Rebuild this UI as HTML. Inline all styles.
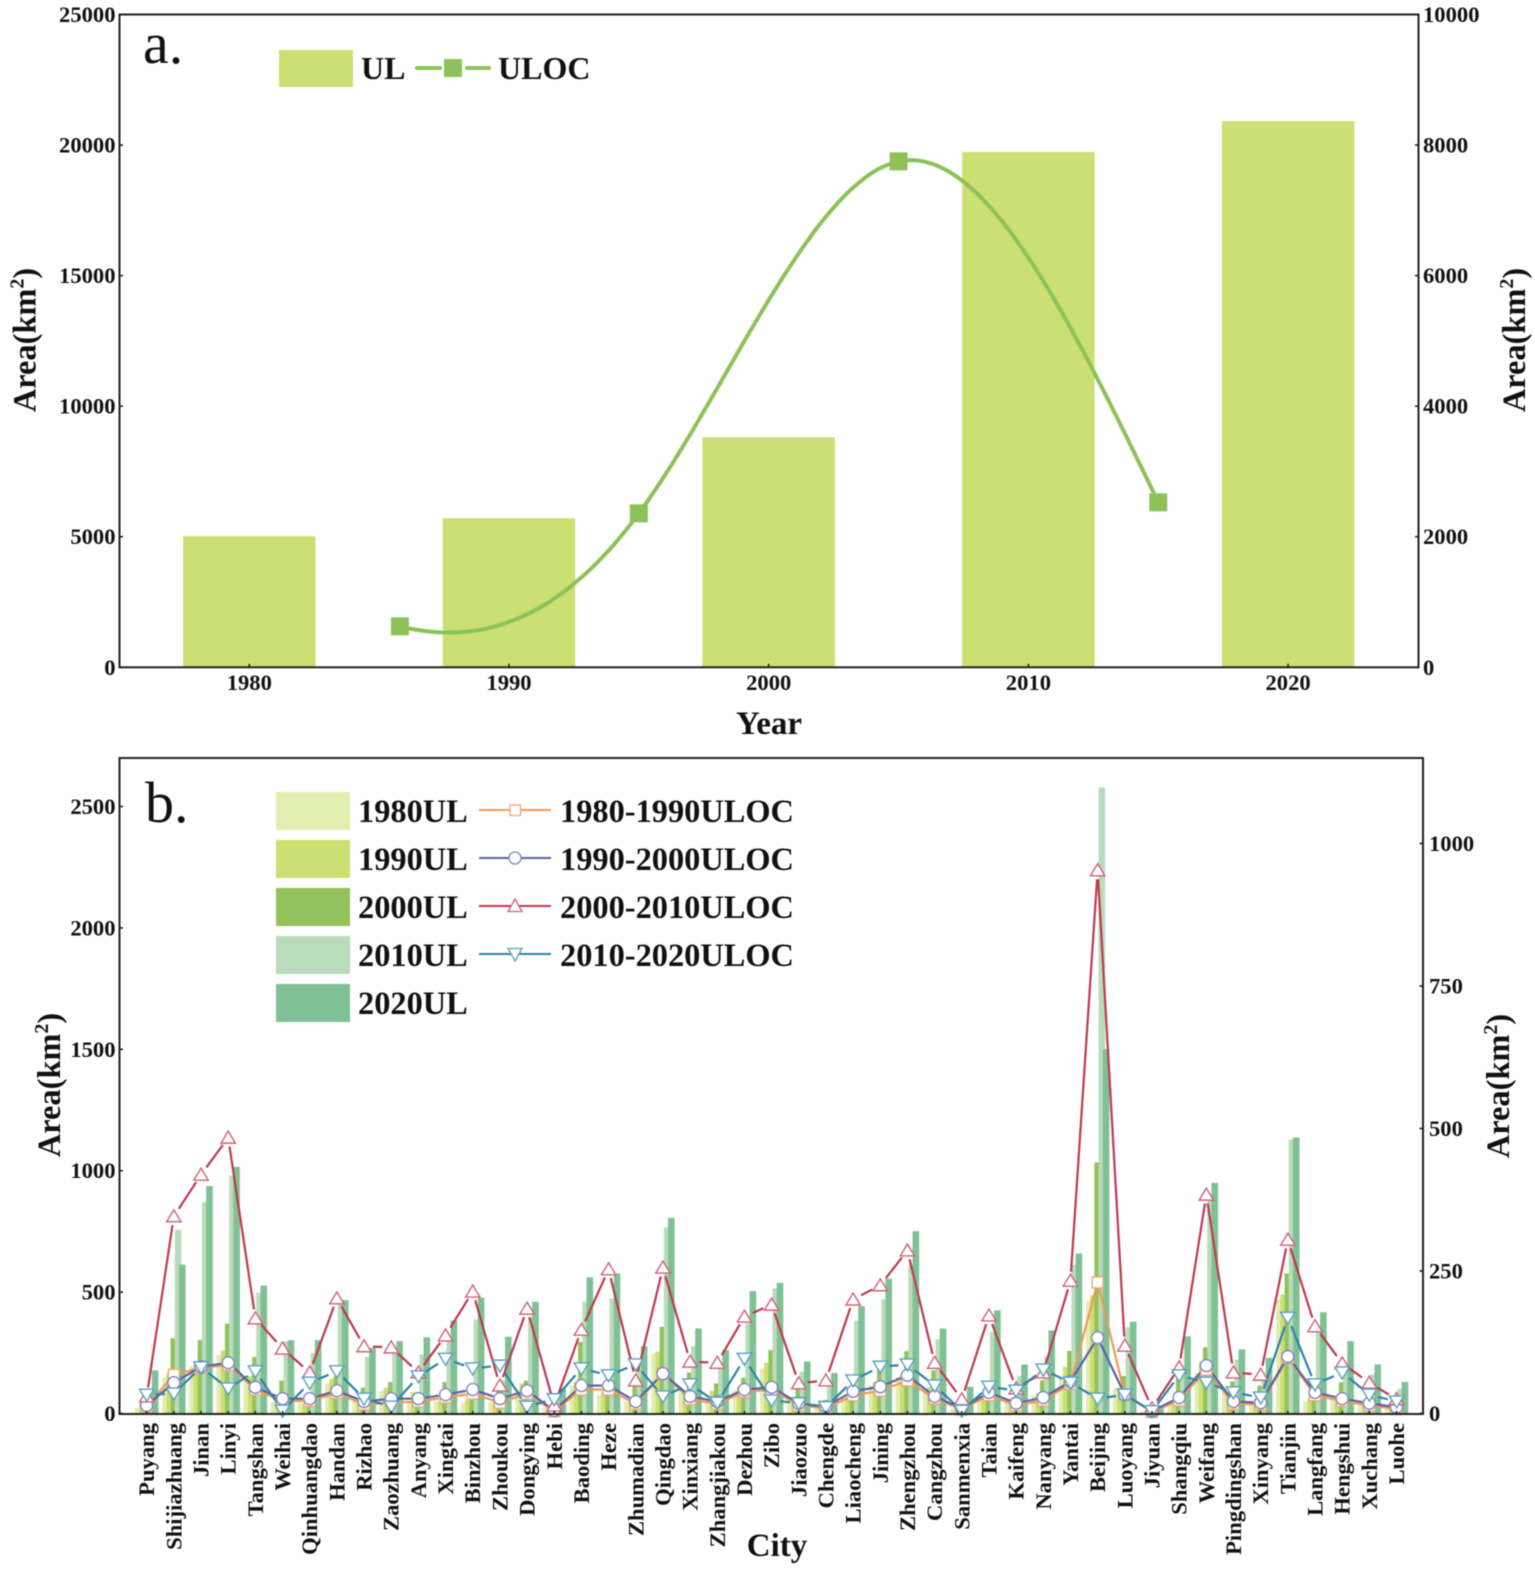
<!DOCTYPE html>
<html lang="en">
<head>
<meta charset="utf-8">
<title>Urban land area and occupation of cultivated land</title>
<style>
html,body{margin:0;padding:0;background:#fff;}
#figure{display:block;width:1535px;height:1569px;filter:blur(0.45px);}
text{font-family:"Liberation Serif",serif;font-weight:bold;fill:#111;}
.tick{font-size:22.6px;}
.title{font-size:33px;}
.area{font-size:32.4px;}
.sup{font-size:20px;}
.panel{font-size:58px;font-weight:normal;}
.leg-a{font-size:32px;}
.leg{font-size:32.4px;}
</style>
</head>
<body>
<svg id="figure" xmlns="http://www.w3.org/2000/svg" width="1535" height="1569" viewBox="0 0 1535 1569">
  <g id="a-plot"></g>
  <g id="b-plot"></g>

  <text class="panel" x="143" y="63">a.</text>
  <text class="panel" x="145" y="822">b.</text>

  <text class="title" x="769" y="734" text-anchor="middle">Year</text>
  <text class="title" x="777" y="1556" text-anchor="middle">City</text>

  <text class="area" transform="translate(35.5 340) rotate(-90)" text-anchor="middle">Area(km<tspan class="sup" dy="-12">2</tspan><tspan dy="12">)</tspan></text>
  <text class="area" transform="translate(1525 340) rotate(-90)" text-anchor="middle">Area(km<tspan class="sup" dy="-12">2</tspan><tspan dy="12">)</tspan></text>
  <text class="area" transform="translate(60 1085) rotate(-90)" text-anchor="middle">Area(km<tspan class="sup" dy="-12">2</tspan><tspan dy="12">)</tspan></text>
  <text class="area" transform="translate(1509 1086) rotate(-90)" text-anchor="middle">Area(km<tspan class="sup" dy="-12">2</tspan><tspan dy="12">)</tspan></text>

  <g>
    <rect x="279" y="50" width="74" height="37" fill="#cbdf73"/>
    <text class="leg-a" x="361" y="79">UL</text>
    <line x1="417" y1="68" x2="440" y2="68" stroke="#8cc25a" stroke-width="4" stroke-linecap="round"/>
    <line x1="467" y1="68" x2="489" y2="68" stroke="#8cc25a" stroke-width="4" stroke-linecap="round"/>
    <rect x="444" y="59" width="18" height="18" fill="#8fc15b"/>
    <text class="leg-a" x="498" y="79">ULOC</text>
  </g>

  <g>
    <rect x="276" y="792" width="74" height="38" fill="#e2edb0"/>
    <rect x="276" y="840" width="74" height="38" fill="#cbdf73"/>
    <rect x="276" y="888" width="74" height="38" fill="#93c25c"/>
    <rect x="276" y="936" width="74" height="38" fill="#bbdcbb"/>
    <rect x="276" y="984" width="74" height="38" fill="#80c095"/>
    <text class="leg" x="358" y="822">1980UL</text>
    <text class="leg" x="358" y="870">1990UL</text>
    <text class="leg" x="358" y="918">2000UL</text>
    <text class="leg" x="358" y="966">2010UL</text>
    <text class="leg" x="358" y="1014">2020UL</text>

    <line x1="479" y1="810" x2="551" y2="810" stroke="#ef9a55" stroke-width="2"/>
    <rect x="510" y="805" width="10.5" height="10.5" fill="#fff" stroke="#f0a878" stroke-width="1.3"/>
    <text class="leg" x="560" y="822">1980-1990ULOC</text>

    <line x1="479" y1="858" x2="551" y2="858" stroke="#5a62a8" stroke-width="2"/>
    <circle cx="515" cy="858" r="6" fill="#fff" stroke="#7f86c0" stroke-width="1.3"/>
    <text class="leg" x="560" y="870">1990-2000ULOC</text>

    <line x1="479" y1="906" x2="551" y2="906" stroke="#c0394f" stroke-width="2"/>
    <polygon points="515,899 522,911.5 508,911.5" fill="#fff" stroke="#d0607a" stroke-width="1.3"/>
    <text class="leg" x="560" y="918">2000-2010ULOC</text>

    <line x1="479" y1="954" x2="551" y2="954" stroke="#2d84ab" stroke-width="2"/>
    <polygon points="515,961 522,948.5 508,948.5" fill="#fff" stroke="#5a9fc0" stroke-width="1.3"/>
    <text class="leg" x="560" y="966">2010-2020ULOC</text>
  </g>
</svg>

<script>
// ---------- Panel a data ----------
const aYears = [1980, 1990, 2000, 2010, 2020];
const aUL = [5020, 5710, 8810, 19730, 20920];
const aUlocYears = [1985.8, 1995, 2005, 2015];
const aULOC = [628, 2358, 7750, 2527];
const aLeftTicks = [0, 5000, 10000, 15000, 20000, 25000];
const aRightTicks = [0, 2000, 4000, 6000, 8000, 10000];

// ---------- Panel b data ----------
const cities = ["Puyang","Shijiazhuang","Jinan","Linyi","Tangshan","Weihai","Qinhuangdao","Handan","Rizhao","Zaozhuang","Anyang","Xingtai","Binzhou","Zhoukou","Dongying","Hebi","Baoding","Heze","Zhumadian","Qingdao","Xinxiang","Zhangjiakou","Dezhou","Zibo","Jiaozuo","Chengde","Liaocheng","Jining","Zhengzhou","Cangzhou","Sanmenxia","Taian","Kaifeng","Nanyang","Yantai","Beijing","Luoyang","Jiyuan","Shangqiu","Weifang","Pingdingshan","Xinyang","Tianjin","Langfang","Hengshui","Xuchang","Luohe"];
const ul1980 = [23,150,195,240,150,48,44,124,58,92,50,50,45,48,96,25,117,75,48,247,89,55,96,185,55,41,62,117,151,96,21,58,55,75,144,465,106,10,50,167,85,37,470,50,58,44,30];
const ul1990 = [44,165,208,260,154,50,37,143,58,106,88,50,55,55,124,20,130,89,48,254,96,93,110,209,62,55,69,130,165,110,27,69,62,85,192,486,106,15,58,209,85,44,490,65,65,50,37];
const ul2000 = [60,310,303,370,233,136,85,154,106,130,85,129,70,110,135,41,295,110,113,357,169,124,147,261,103,48,82,185,257,178,34,96,69,137,258,1034,154,20,154,273,133,115,577,112,129,71,50];
const ul2010 = [100,757,870,980,497,296,250,449,233,247,243,298,387,137,398,69,460,474,206,766,277,185,371,515,172,113,382,471,611,306,55,336,155,235,611,2578,355,18,181,881,222,154,1128,333,181,160,102];
const ul2020 = [178,613,937,1016,527,302,302,467,270,298,314,383,477,316,460,103,561,577,277,806,350,261,504,538,214,167,442,555,751,350,110,425,202,342,659,1500,378,23,318,950,264,229,1137,417,298,202,130];
const uloc8090 = [12,68,80,85,42,22,22,36,16,19,21,28,35,19,35,4,42,42,17,70,25,17,38,42,14,9,32,40,58,26,7,32,14,23,52,230,33,3,23,77,17,16,98,32,22,14,8];
const uloc9000 = [14,54,82,89,46,26,26,40,21,26,26,33,42,26,40,5,49,49,21,70,30,21,42,46,18,12,39,47,67,30,9,37,18,28,56,133,33,4,28,84,21,19,100,37,26,18,11];
const uloc0010 = [30,346,419,484,167,114,72,202,118,116,72,137,214,49,184,14,147,253,58,256,91,89,170,191,53,58,200,225,286,89,25,172,44,72,233,953,119,9,81,384,72,68,305,153,88,54,25];
const uloc1020 = [33,35,81,44,74,5,54,74,26,12,65,96,79,84,12,25,79,67,86,30,51,19,96,23,18,11,58,82,86,49,5,47,40,77,54,26,33,4,67,54,37,28,168,51,72,33,21];
const bLeftTicks = [0, 500, 1000, 1500, 2000, 2500];
const bRightTicks = [0, 250, 500, 750, 1000];

const NS = 'http://www.w3.org/2000/svg';
function mk(tag, attrs, parent, txt) {
  const el = document.createElementNS(NS, tag);
  for (const k in attrs) el.setAttribute(k, attrs[k]);
  if (txt !== undefined) el.textContent = txt;
  parent.appendChild(el);
  return el;
}

// ---------- Panel a axis functions ----------
const gA = document.getElementById('a-plot');
const aBox = {l: 119.5, r: 1418.5, t: 14.5, b: 667.3};
const axL = v => aBox.b - v / 25000 * (aBox.b - aBox.t);
const axR = v => aBox.b - v / 10000 * (aBox.b - aBox.t);
const axX = y => 249.3 + (y - 1980) * 25.97;

aYears.forEach((yr, i) => {
  const el = mk('rect', {x: axX(yr) - 66.2, y: axL(aUL[i]), width: 132.4, height: axL(0) - axL(aUL[i]), fill: '#cbdf73'}, gA);
  
  
});

// cubic spline through ULOC points: fixed start slope, natural end
function spline(xs, ys, startSlope, steps) {
  const n = xs.length - 1, h = [], del = [];
  for (let i = 0; i < n; i++) { h[i] = xs[i + 1] - xs[i]; del[i] = (ys[i + 1] - ys[i]) / h[i]; }
  const a = [], b = [], c = [], r = [];
  a[0] = 0; b[0] = 1; c[0] = 0; r[0] = startSlope;
  for (let i = 1; i < n; i++) {
    a[i] = h[i];
    b[i] = 2 * (h[i - 1] + h[i]);
    c[i] = h[i - 1];
    r[i] = 3 * (h[i] * del[i - 1] + h[i - 1] * del[i]);
  }
  a[n] = 1; b[n] = 2; c[n] = 0; r[n] = 3 * del[n - 1];
  for (let i = 1; i <= n; i++) {
    const w = a[i] / b[i - 1];
    b[i] -= w * c[i - 1];
    r[i] -= w * r[i - 1];
  }
  const m = [];
  m[n] = r[n] / b[n];
  for (let i = n - 1; i >= 0; i--) m[i] = (r[i] - c[i] * m[i + 1]) / b[i];
  const pts = [];
  for (let j = 0; j < n; j++) for (let s = 0; s <= steps; s++) {
    const t = s / steps, t2 = t * t, t3 = t2 * t;
    const y = (2 * t3 - 3 * t2 + 1) * ys[j] + (t3 - 2 * t2 + t) * h[j] * m[j] + (-2 * t3 + 3 * t2) * ys[j + 1] + (t3 - t2) * h[j] * m[j + 1];
    pts.push([xs[j] + t * h[j], y]);
  }
  return pts;
}
const ulocPx = aUlocYears.map(axX), ulocPy = aULOC.map(axR);
const curve = mk('path', {d: 'M' + spline(ulocPx, ulocPy, 0.25, 40).map(p => p[0].toFixed(1) + ' ' + p[1].toFixed(1)).join('L'), fill: 'none', stroke: '#8cc25a', 'stroke-width': 4}, gA);


aULOC.forEach((v, i) => {
  const el = mk('rect', {x: ulocPx[i] - 9, y: ulocPy[i] - 9, width: 18, height: 18, fill: '#8fc15b'}, gA);
  
  
});

const aFrame = mk('rect', {x: aBox.l, y: aBox.t, width: aBox.r - aBox.l, height: aBox.b - aBox.t, fill: 'none', stroke: '#222', 'stroke-width': 2}, gA);



aLeftTicks.forEach(v => {
  const t = mk('line', {x1: aBox.l, x2: aBox.l + 3.5, y1: axL(v), y2: axL(v), stroke: '#222', 'stroke-width': 1.6}, gA);
  
  
  const el = mk('text', {class: 'tick', x: 115.5, y: axL(v) + 7.5, 'text-anchor': 'end'}, gA, v);
  
  
});
aRightTicks.forEach(v => {
  const t = mk('line', {x1: aBox.r - 3.5, x2: aBox.r, y1: axR(v), y2: axR(v), stroke: '#222', 'stroke-width': 1.6}, gA);
  
  
  const el = mk('text', {class: 'tick', x: 1423, y: axR(v) + 7.5}, gA, v);
  
  
});
aYears.forEach(yr => {
  const t = mk('line', {x1: axX(yr), x2: axX(yr), y1: aBox.b - 3.5, y2: aBox.b, stroke: '#222', 'stroke-width': 1.6}, gA);
  
  
  const el = mk('text', {class: 'tick', x: axX(yr), y: 690, 'text-anchor': 'middle'}, gA, yr);
  
  
});

// ---------- Panel b axis functions ----------
const gB = document.getElementById('b-plot');
const bBox = {l: 119.5, r: 1423, t: 758, b: 1414};
const bxL = v => 1413.5 - v * 0.2428;
const bxR = v => 1413.5 - v * 0.57;
const bxX = i => 146.7 + i * 27.17;

const barSeries = [ul1980, ul1990, ul2000, ul2010, ul2020];
const barNames = ['1980', '1990', '2000', '2010', '2020'];
const barColors = ['#e2edb0', '#cbdf73', '#93c25c', '#bbdcbb', '#80c095'];
barSeries.forEach((vals, s) => {
  vals.forEach((v, i) => {
    const cx = bxX(i) + (s - 2) * 4.2;
    const el = mk('rect', {x: cx - 3.3, y: bxL(v), width: 6.6, height: bxL(0) - bxL(v), fill: barColors[s]}, gB);
    
    
  });
});

function drawLine(vals, color, gap, name) {
  const pts = vals.map((v, i) => [bxX(i), bxR(v)]);
  for (let i = 0; i < pts.length - 1; i++) {
    const dx = pts[i + 1][0] - pts[i][0], dy = pts[i + 1][1] - pts[i][1], L = Math.hypot(dx, dy);
    if (L <= gap * 2 + 0.5) continue;
    const ux = dx / L, uy = dy / L;
    const el = mk('line', {x1: pts[i][0] + ux * gap, y1: pts[i][1] + uy * gap, x2: pts[i + 1][0] - ux * gap, y2: pts[i + 1][1] - uy * gap, stroke: color, 'stroke-width': 2.2}, gB);
    
    
  }
}
drawLine(uloc8090, '#ef9a55', 6.5, 'uloc-1980-1990');
drawLine(uloc9000, '#5a62a8', 7, 'uloc-1990-2000');
drawLine(uloc0010, '#c0394f', 9, 'uloc-2000-2010');
drawLine(uloc1020, '#2d84ab', 9, 'uloc-2010-2020');

uloc8090.forEach((v, i) => {
  const el = mk('rect', {x: bxX(i) - 5.5, y: bxR(v) - 5.5, width: 11, height: 11, fill: '#fff', stroke: '#f0a878', 'stroke-width': 1.4}, gB);
  
  
});
uloc9000.forEach((v, i) => {
  const el = mk('circle', {cx: bxX(i), cy: bxR(v), r: 6, fill: '#fff', stroke: '#7f86c0', 'stroke-width': 1.4}, gB);
  
  
});
uloc0010.forEach((v, i) => {
  const x = bxX(i), y = bxR(v);
  const el = mk('polygon', {points: x + ',' + (y - 6.5) + ' ' + (x + 7.2) + ',' + (y + 5.5) + ' ' + (x - 7.2) + ',' + (y + 5.5), fill: '#fff', stroke: '#d0607a', 'stroke-width': 1.4}, gB);
  
  
});
uloc1020.forEach((v, i) => {
  const x = bxX(i), y = bxR(v);
  const el = mk('polygon', {points: x + ',' + (y + 6.5) + ' ' + (x + 7.2) + ',' + (y - 5.5) + ' ' + (x - 7.2) + ',' + (y - 5.5), fill: '#fff', stroke: '#5a9fc0', 'stroke-width': 1.4}, gB);
  
  
});

const bFrame = mk('rect', {x: bBox.l, y: bBox.t, width: bBox.r - bBox.l, height: bBox.b - bBox.t, fill: 'none', stroke: '#222', 'stroke-width': 2}, gB);



bLeftTicks.forEach(v => {
  const t = mk('line', {x1: bBox.l, x2: bBox.l + 3.5, y1: bxL(v), y2: bxL(v), stroke: '#222', 'stroke-width': 1.6}, gB);
  
  
  const el = mk('text', {class: 'tick', x: 115.5, y: bxL(v) + 7.5, 'text-anchor': 'end'}, gB, v);
  
  
});
bRightTicks.forEach(v => {
  const t = mk('line', {x1: bBox.r - 3.5, x2: bBox.r, y1: bxR(v), y2: bxR(v), stroke: '#222', 'stroke-width': 1.6}, gB);
  
  
  const el = mk('text', {class: 'tick', x: 1429, y: bxR(v) + 7.5}, gB, v);
  
  
});
cities.forEach((c, i) => {
  const x = bxX(i);
  const t = mk('line', {x1: x, x2: x, y1: bBox.b - 3, y2: bBox.b, stroke: '#222', 'stroke-width': 1.6}, gB);
  
  
  const el = mk('text', {class: 'tick', transform: 'translate(' + (x + 7.5) + ' 1423) rotate(-90)', 'text-anchor': 'end'}, gB, c);
  
  
});
</script>
</body>
</html>
